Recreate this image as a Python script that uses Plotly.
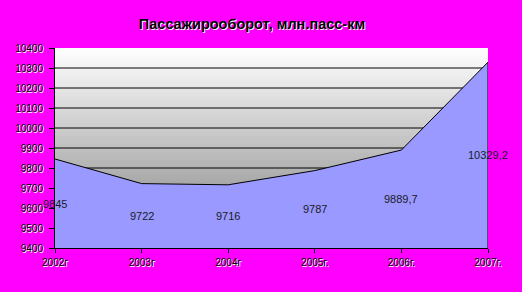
import plotly.graph_objects as go

years = ["2002г", "2003г", "2004г", "2005г.", "2006г.", "2007г."]
values = [9845, 9722, 9716, 9787, 9889.7, 10329.2]
label_texts = ["9845", "9722", "9716", "9787", "9889,7", "10329,2"]
y_ticks = [9400, 9500, 9600, 9700, 9800, 9900, 10000, 10100, 10200, 10300, 10400]

ymin, ymax = y_ticks[0], y_ticks[-1]
xs = list(range(len(years)))

fig = go.Figure()

# gridlines (not at top edge), drawn under the area
gx, gy = [], []
for v in y_ticks[1:-1]:
    gx += [xs[0], xs[-1], None]
    gy += [v, v, None]
fig.add_trace(go.Scatter(x=gx, y=gy, mode="lines",
                         line=dict(color="#000000", width=1),
                         hoverinfo="skip", showlegend=False, cliponaxis=True))

# area
fig.add_trace(go.Scatter(
    x=xs, y=values, mode="lines", fill="tozeroy",
    fillcolor="#9999ff", line=dict(color="#000000", width=1),
    hoverinfo="skip", showlegend=False))
# right edge line of area
fig.add_trace(go.Scatter(
    x=[xs[-1], xs[-1]], y=[ymin, values[-1]], mode="lines",
    line=dict(color="#000000", width=1), hoverinfo="skip", showlegend=False))

shapes = []
# gradient background
n = 100
for i in range(n):
    f = (i + 0.5) / n  # 0 bottom -> 1 top
    c = int(round(128 + (255 - 128) * f))
    shapes.append(dict(type="rect", xref="x domain", yref="y domain",
                       x0=0, x1=1, y0=i / n, y1=min(1, (i + 1) / n + 0.002),
                       fillcolor=f"rgb({c},{c},{c})", line=dict(width=0),
                       layer="below"))

annotations = []
for x, v, t in zip(xs, values, label_texts):
    annotations.append(dict(x=x, y=(v + ymin) / 2, xref="x", yref="y",
                            text=t, showarrow=False,
                            font=dict(family="Liberation Sans, Arial", size=11, color="#1a1a2a")))

tickfont = dict(family="Liberation Sans, Arial", size=10, color="#000000",
                shadow="1px 1px 0px #ffffff")

fig.update_layout(
    width=522, height=292,
    margin=dict(l=55, r=34, t=48, b=44),
    paper_bgcolor="#ff00ff",
    plot_bgcolor="rgba(0,0,0,0)",
    title=dict(text="<b>Пассажирооборот, млн.пасс-км</b>",
               x=252 / 522, xanchor="center", xref="container",
               y=(292 - 24) / 292, yanchor="middle", yref="container",
               font=dict(family="Liberation Sans, Arial", size=14.5, color="#000000",
                         shadow="1px 1px 0px #ffffff")),
    xaxis=dict(range=[xs[0], xs[-1]], tickmode="array", tickvals=xs, ticktext=years,
               showgrid=False, zeroline=False, showline=True, linecolor="#000000",
               linewidth=1, ticks="outside", ticklen=4, tickcolor="#000000",
               tickfont=tickfont, ticklabelstandoff=1),
    yaxis=dict(range=[ymin, ymax], tickmode="array", tickvals=y_ticks,
               ticktext=[str(v) for v in y_ticks],
               showgrid=False, zeroline=False, showline=True, linecolor="#000000",
               linewidth=1, ticks="outside", ticklen=5, tickcolor="#000000",
               tickfont=tickfont, ticklabelstandoff=4),
    shapes=shapes,
    annotations=annotations,
)

fig.write_html("out.html")
